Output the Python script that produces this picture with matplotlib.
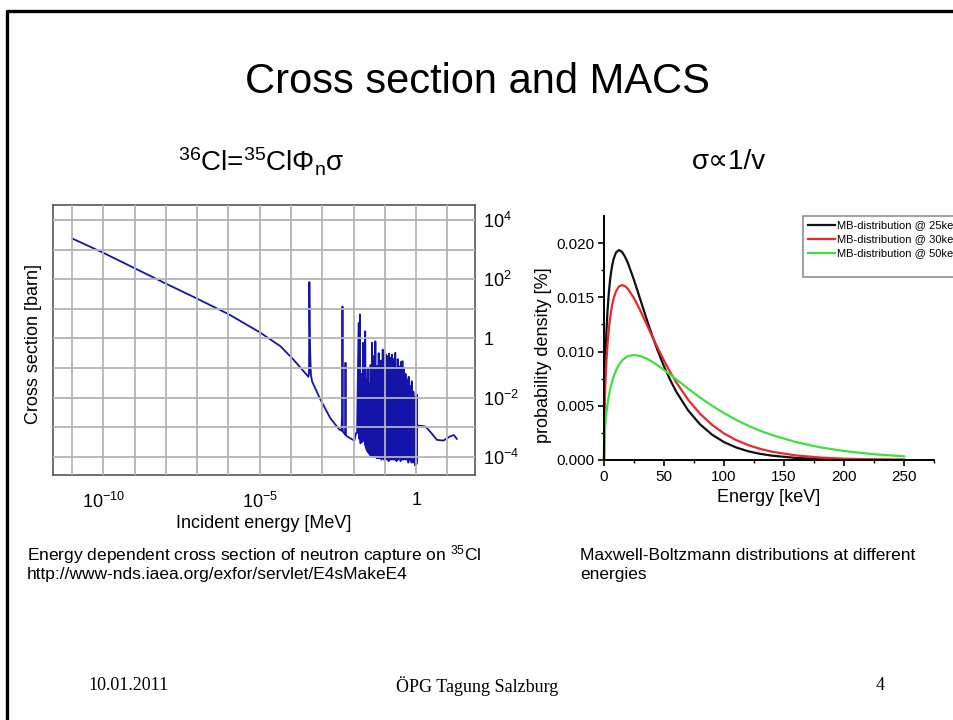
import numpy as np
import matplotlib
matplotlib.use('Agg')
import matplotlib.pyplot as plt
from matplotlib.lines import Line2D
from matplotlib.patches import Rectangle

plt.rcParams['font.family'] = ['Liberation Sans', 'DejaVu Sans']
plt.rcParams['mathtext.fontset'] = 'custom'
plt.rcParams['mathtext.rm'] = 'Liberation Sans'
plt.rcParams['mathtext.it'] = 'Liberation Sans'
plt.rcParams['mathtext.bf'] = 'Liberation Sans:bold'

W, H = 954, 720

# --- left chart: 35Cl(n,g) cross section (E in MeV, sigma in barn) ---
e_low = [1e-11, 1e-10, 1e-9, 1e-8, 1e-7, 1e-6, 1e-5, 4.6e-5, 1.2e-4, 2.9e-4,
         3.6e-4, 3.75e-4, 3.85e-4, 3.95e-4, 4.05e-4, 4.3e-4, 4.7e-4, 8.7e-4,
         1.8e-3, 3.4e-3, 4.1e-3, 4.2e-3, 4.3e-3, 4.4e-3, 4.5e-3, 4.7e-3,
         5.2e-3, 5.4e-3, 5.5e-3, 5.6e-3, 6.2e-3, 1.05e-2, 1.2e-2]
sig_low = [2400, 780, 235, 71, 22, 6.6, 1.6, 0.54, 0.19, 0.065,
           0.05, 0.07, 80, 3.0, 0.5, 0.06, 0.035, 8.5e-3,
           2.0e-3, 8.5e-4, 7.5e-4, 1.8e-3, 1.2e-3, 12, 7.5e-4, 6.5e-4,
           6e-4, 5.5e-4, 0.15, 5.5e-4, 4.8e-4, 3.5e-4, 6.3e-4]

# unresolved resonance forest (log10 values)
forest_log_e = [
    -1.89, -1.84, -1.82, -1.80, -1.78, -1.74, -1.72, -1.70, -1.67, -1.65,
    -1.64, -1.63, -1.61, -1.59, -1.58, -1.55, -1.54, -1.52, -1.50, -1.48,
    -1.47, -1.46, -1.44, -1.43, -1.42, -1.41, -1.39, -1.38, -1.37, -1.36,
    -1.34, -1.33, -1.32, -1.305, -1.29, -1.27, -1.26, -1.25, -1.23, -1.22,
    -1.21, -1.20, -1.18, -1.17, -1.16, -1.15, -1.13, -1.12, -1.11, -1.09,
    -1.08, -1.07, -1.05, -1.04, -1.03, -1.02, -1.00, -0.99, -0.98, -0.97,
    -0.95, -0.94, -0.93, -0.92, -0.90, -0.89, -0.88, -0.87, -0.85, -0.84,
    -0.83, -0.82, -0.80, -0.79, -0.78, -0.77, -0.75, -0.74, -0.73, -0.72,
    -0.70, -0.69, -0.68, -0.67, -0.65, -0.64, -0.63, -0.62, -0.60, -0.59,
    -0.58, -0.56, -0.55, -0.54, -0.52, -0.51, -0.50, -0.49, -0.47, -0.46,
    -0.45, -0.44, -0.42, -0.41, -0.40, -0.39, -0.37, -0.36, -0.35, -0.34,
    -0.32, -0.31, -0.30, -0.29, -0.27, -0.26, -0.25, -0.24, -0.22, -0.21,
    -0.20, -0.19, -0.17, -0.16, -0.15, -0.14, -0.12, -0.11, -0.10, -0.09,
    -0.07, -0.06, -0.05, -0.04, -0.03, -0.02, -0.01, 0.00, 0.01, 0.02,
    0.025, 0.03]
forest_log_sig = [
    -3.20, 0.52, -3.40, 0.81, -3.55, -1.20, -3.50, -0.15, -3.45, -1.60,
    -3.60, 0.24, -3.70, -1.40, -3.80, -1.00, -3.85, -1.51, -3.90, -2.10,
    -3.95, -0.90, -3.95, -1.70, -3.90, -0.15, -3.95, -1.30, -4.00, -0.60,
    -3.95, -1.50, -4.00, -0.10, -4.00, -1.80, -4.05, -0.94, -4.00, -1.40,
    -4.05, -0.50, -4.00, -1.90, -4.05, -1.10, -4.00, -0.75, -4.10, -1.60,
    -4.05, -0.38, -4.00, -1.20, -4.10, -0.45, -4.05, -1.70, -4.10, -0.55,
    -4.00, -1.30, -4.10, -0.60, -4.05, -1.50, -4.15, -0.52, -4.05, -1.10,
    -4.10, -0.66, -4.00, -1.60, -4.10, -0.55, -4.05, -1.20, -4.10, -0.70,
    -4.05, -1.40, -4.10, -0.49, -4.05, -1.00, -4.15, -2.00, -4.00, -0.70,
    -4.10, -1.50, -4.05, -0.95, -4.00, -1.80, -4.15, -0.80, -4.05, -1.30,
    -4.10, -0.77, -4.05, -1.60, -4.10, -1.00, -4.00, -1.90, -4.10, -1.20,
    -4.05, -1.70, -4.10, -1.40, -4.05, -2.10, -4.20, -1.30, -4.10, -1.75,
    -4.05, -1.60, -4.10, -2.20, -4.20, -1.45, -4.05, -2.00, -4.20, -1.80,
    -4.10, -2.30, -4.15, -2.10, -4.30, -1.96, -4.20, -2.40, -4.25, -1.90,
    -4.10, -2.95]

e_high = [1.5, 1.95, 2.8, 4.6, 7.4, 12, 16, 20]
sig_high = [1.1e-3, 1.05e-3, 7e-4, 3.7e-4, 3.5e-4, 4.8e-4, 5.4e-4, 4.0e-4]

xs_ticks = [1e-11, 1e-10, 1e-9, 1e-8, 1e-7, 1e-6, 1e-5, 1e-4, 1e-3, 1e-2, 1e-1, 1, 10]
xs_labels = ['', r'$10^{-10}$', '', '', '', '', r'$10^{-5}$', '', '', '', '', '1', '']
ys_ticks = [1e-4, 1e-3, 1e-2, 1e-1, 1, 10, 1e2, 1e3, 1e4]
ys_labels = [r'$10^{-4}$', '', r'$10^{-2}$', '', '1', '', r'$10^{2}$', '', r'$10^{4}$']

# --- right chart: Maxwell-Boltzmann distributions ---
mb_energy = [0, 0.25, 0.5, 1, 2, 3, 4, 5, 6, 7,
             8, 10, 12.5, 15, 17.5, 20, 25, 30, 35, 40,
             45, 50, 55, 60, 70, 80, 90, 100, 110, 120,
             130, 140, 160, 180, 200, 225, 250]
mb_25 = [0, .00447, .00626, .00867, .01178, .01387, .01538, .01653, .01739, .01805,
         .01854, .01913, .01936, .01919, .01875, .01814, .01660, .01489, .01317, .01153,
         .01001, .00864, .00742, .00634, .00459, .00329, .00234, .00165, .00116, .00081,
         .00057, .00040, .00019, .00009, .00004, .00002, .00001]
mb_30 = [0, .00341, .00478, .00664, .00909, .01076, .01202, .01300, .01377, .01439,
         .01488, .01556, .01600, .01613, .01603, .01577, .01492, .01384, .01265, .01145,
         .01028, .00917, .00814, .00720, .00557, .00427, .00324, .00245, .00184, .00138,
         .00103, .00076, .00042, .00023, .00012, .00006, .00003]
mb_50 = [0, .00159, .00223, .00313, .00434, .00521, .00589, .00646, .00693, .00734,
         .00769, .00826, .00879, .00916, .00941, .00957, .00968, .00959, .00938, .00907,
         .00871, .00830, .00788, .00745, .00659, .00576, .00501, .00432, .00371, .00317,
         .00270, .00230, .00165, .00117, .00083, .00053, .00034]
mb_names = ['MB-distribution @ 25keV', 'MB-distribution @ 30keV', 'MB-distribution @ 50keV']
mb_colors = ['#111111', '#e8282c', '#3ee03e']


def fx(x):
    return x / W


def fy(y):
    return 1 - y / H


fig = plt.figure(figsize=(W / 100, H / 100), dpi=100)
fig.patch.set_facecolor('white')

# slide frame (only top/left edge is inside the picture)
fig.add_artist(Line2D([fx(7.5), fx(7.5), fx(W + 5)], [fy(H + 5), fy(10.5), fy(10.5)],
                      color='black', lw=2.4, transform=fig.transFigure))

fig.text(fx(477), fy(82), 'Cross section and MACS', ha='center', va='center', fontsize=30)
fig.text(fx(261), fy(162), r'$^{36}$Cl=$^{35}$Cl$\Phi_{n}\sigma$', ha='center', va='center', fontsize=20)
fig.text(fx(729), fy(162), 'σ∝1/v', ha='center', va='center', fontsize=20)

# ---------------- left chart ----------------
ax1 = fig.add_axes([fx(53), fy(475), fx(422), 270 / H])
e_all = np.concatenate([e_low, 10 ** np.array(forest_log_e), e_high])
s_all = np.concatenate([sig_low, 10 ** np.array(forest_log_sig), sig_high])
ax1.plot(e_all, s_all, color='#1414aa', lw=1.3, zorder=2)
ax1.set_xscale('log')
ax1.set_yscale('log')
ax1.set_xlim(10 ** -11.61, 10 ** 1.88)
ax1.set_ylim(10 ** -4.62, 10 ** 4.51)
ax1.set_xticks(xs_ticks, xs_labels)
ax1.set_yticks(ys_ticks, ys_labels)
ax1.minorticks_off()
ax1.yaxis.tick_right()
ax1.tick_params(axis='both', which='both', length=0, labelsize=13)
ax1.tick_params(axis='x', pad=12)
ax1.tick_params(axis='y', pad=6)
ax1.grid(True, color='#b4b4b4', lw=1.3, zorder=3)
ax1.set_axisbelow(False)
for s in ax1.spines.values():
    s.set_color('#555555')
    s.set_linewidth(1.2)
ax1.set_xlabel('Incident energy [MeV]', fontsize=13, labelpad=2)
fig.text(fx(34), fy(344), 'Cross section [barn]', rotation=90, ha='center', va='center', fontsize=13)

# ---------------- right chart ----------------
ax2 = fig.add_axes([fx(604), fy(460), fx(330), 244 / H])
for vals, name, col in zip([mb_25, mb_30, mb_50], mb_names, mb_colors):
    ax2.plot(mb_energy, vals, color=col, lw=1.6, label=name, clip_on=False)
ax2.set_xlim(0, 275)
ax2.set_ylim(0, 0.0225)
ax2.set_xticks([0, 50, 100, 150, 200, 250])
ax2.set_xticks([25, 75, 125, 175, 225, 275], minor=True)
ax2.set_yticks([0, 0.005, 0.010, 0.015, 0.020], ['0.000', '0.005', '0.010', '0.015', '0.020'])
ax2.set_yticks([0.0025, 0.0075, 0.0125, 0.0175], minor=True)
ax2.spines['top'].set_visible(False)
ax2.spines['right'].set_visible(False)
for s in ('left', 'bottom'):
    ax2.spines[s].set_linewidth(1.4)
ax2.tick_params(axis='both', which='major', direction='out', length=4, width=1.2, labelsize=11, pad=3)
ax2.tick_params(axis='both', which='minor', direction='out', length=2.5, width=1.0)
ax2.set_xlabel('Energy [keV]', fontsize=13, labelpad=4)
fig.text(fx(544), fy(355), 'probability density [%]', rotation=90, ha='center', va='center', fontsize=13)

# legend box running off the slide edge
fig.add_artist(Rectangle((fx(803), fy(277)), fx(200), 61 / H, transform=fig.transFigure,
                         facecolor='white', edgecolor='#909090', lw=1.2))
for i, (name, col) in enumerate(zip(mb_names, mb_colors)):
    y = 225 + 14 * i
    fig.add_artist(Line2D([fx(808), fx(835)], [fy(y), fy(y)], color=col, lw=1.6,
                          transform=fig.transFigure))
    fig.text(fx(837), fy(y), name, ha='left', va='center', fontsize=8)

# captions
cap = 12.5
fig.text(fx(27), fy(555), r'Energy dependent cross section of neutron capture on $^{35}$Cl',
         ha='left', va='center', fontsize=cap)
fig.text(fx(27), fy(575), 'http://www-nds.iaea.org/exfor/servlet/E4sMakeE4',
         ha='left', va='center', fontsize=cap)
fig.text(fx(580), fy(555), 'Maxwell-Boltzmann distributions at different',
         ha='left', va='center', fontsize=cap)
fig.text(fx(580), fy(575), 'energies', ha='left', va='center', fontsize=cap)

# footer
serif = ['Liberation Serif', 'DejaVu Serif']
fig.text(fx(129), fy(686), '10.01.2011', ha='center', va='center', fontsize=13, family=serif)
fig.text(fx(477), fy(686), 'ÖPG Tagung Salzburg', ha='center', va='center', fontsize=13, family=serif)
fig.text(fx(880), fy(686), '4', ha='center', va='center', fontsize=13, family=serif)

fig.savefig('out.png', dpi=100, facecolor='white')
